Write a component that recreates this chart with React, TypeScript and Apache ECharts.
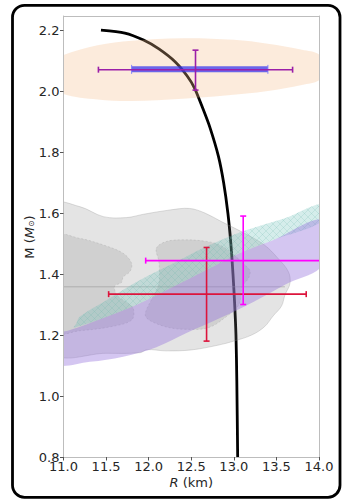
import React, { useEffect, useRef } from "react";
import * as echarts from "echarts";

const FONT = "DejaVu Sans";

// Mass–radius relation of the equation of state (R in km, M in solar masses)
const eosR = [11.44, 11.72, 11.94, 12.12, 12.31, 12.45, 12.54, 12.64, 12.72, 12.82, 12.88, 12.93, 12.965, 12.99, 13.01, 13.025, 13.035, 13.045];
const eosM = [2.2, 2.19, 2.167, 2.138, 2.096, 2.05, 2.009, 1.94, 1.88, 1.785, 1.7, 1.6, 1.5, 1.4, 1.3, 1.2, 1.05, 0.8];

// Credible region of the heavy pulsar (outline)
const heavyRegion = [
  [10.8, 2.09], [11.0, 2.118], [11.4, 2.15], [11.8, 2.165], [12.4, 2.173], [13.0, 2.168], [13.4, 2.155], [13.8, 2.135], [14.0, 2.12], [14.1, 2.08],
  [14.0, 2.035], [13.8, 2.02], [13.4, 2.0], [12.9, 1.985], [12.4, 1.975], [11.8, 1.967], [11.4, 1.972], [11.0, 1.99], [10.8, 2.03],
];

// Gravitational-wave posterior contours: outer (90%) and inner (50%) levels
const gwOuter = [
  [10.9, 1.627], [11.19, 1.621], [11.47, 1.588], [11.74, 1.585], [11.94, 1.596], [12.25, 1.61], [12.48, 1.615], [12.66, 1.6], [12.86, 1.571],
  [13.13, 1.533], [13.36, 1.495], [13.52, 1.451], [13.64, 1.408], [13.66, 1.37], [13.6, 1.331], [13.56, 1.295], [13.46, 1.262], [13.36, 1.227],
  [13.21, 1.2], [13.0, 1.18], [12.82, 1.167], [12.5, 1.151], [12.2, 1.148], [11.98, 1.152], [11.9, 1.142], [11.5, 1.14], [10.9, 1.145],
];
const gwInnerLeft = [
  [10.9, 1.524], [11.19, 1.517], [11.47, 1.495], [11.7, 1.468], [11.8, 1.435], [11.78, 1.408], [11.7, 1.39], [11.68, 1.372], [11.6, 1.36],
  [11.63, 1.33], [11.75, 1.305], [11.82, 1.287], [11.8, 1.249], [11.55, 1.227], [11.19, 1.214], [10.9, 1.21],
];
const gwInnerMid = [
  [12.09, 1.484], [12.2, 1.506], [12.4, 1.512], [12.68, 1.507], [12.85, 1.493], [13.0, 1.463], [13.12, 1.432], [13.19, 1.41], [13.17, 1.385],
  [13.1, 1.36], [13.06, 1.3], [12.92, 1.262], [12.7, 1.224], [12.4, 1.219], [12.2, 1.227], [12.0, 1.25], [11.96, 1.27], [12.04, 1.32],
  [12.12, 1.37], [12.12, 1.44],
];
const gwLevelLine = [[11.0, 1.358], [13.6, 1.358]];

// Constraint bands
const tealBand = [
  [11.12, 1.225], [11.15, 1.238], [11.19, 1.26], [11.51, 1.315], [11.9, 1.38], [12.29, 1.435], [12.68, 1.49], [13.15, 1.544], [13.6, 1.583], [14.05, 1.63],
  [14.05, 1.575], [13.46, 1.511], [13.07, 1.468], [12.68, 1.413], [12.29, 1.358], [11.9, 1.304], [11.51, 1.26], [11.2, 1.23],
];
const purpleBand = [
  [10.9, 1.205], [11.04, 1.213], [11.51, 1.26], [11.9, 1.304], [12.29, 1.358], [12.68, 1.413], [13.07, 1.468], [13.46, 1.511], [14.05, 1.577],
  [14.05, 1.432], [13.6, 1.365], [13.24, 1.31], [12.85, 1.257], [12.45, 1.207], [12.09, 1.16], [11.7, 1.129], [11.31, 1.112], [10.9, 1.105],
];

// Error bars: [R, M, Rlow, Rhigh, Mlow, Mhigh]
const heavyBar = [12.55, 2.07, 11.41, 13.69, 2.003, 2.134];
const heavyBand = [11.8, 13.4, 2.071]; // [Rlow, Rhigh, M]
const nicerRiley = [12.68, 1.334, 11.53, 13.85, 1.18, 1.487];
const nicerMiller = [13.11, 1.444, 11.965, 14.26, 1.3, 1.59];

const xTicks = [11.0, 11.5, 12.0, 12.5, 13.0, 13.5, 14.0];
const yTicks = [0.8, 1.0, 1.2, 1.4, 1.6, 1.8, 2.0, 2.2];

const hatchSvg =
  "<svg xmlns='http://www.w3.org/2000/svg' width='7' height='7'><path d='M0 0L7 7M7 0L0 7' stroke='rgb(110,185,175)' stroke-opacity='0.35' stroke-width='0.6' fill='none'/></svg>";
const hatchUrl = "data:image/svg+xml;charset=utf-8," + encodeURIComponent(hatchSvg);

function areaSeries(id: string, pts: number[][], style: any, z: number) {
  return {
    type: "custom",
    id,
    z,
    clip: true,
    silent: true,
    data: pts,
    encode: { x: 0, y: 1 },
    renderItem: (params: any, api: any) => {
      if (params.dataIndex !== 0) return null;
      return {
        type: "polygon",
        shape: { points: pts.map((p) => api.coord(p)), smooth: 0.35 },
        style,
      };
    },
  };
}

function errorBarSeries(id: string, bar: number[], color: string, z: number) {
  return {
    type: "custom",
    id,
    z,
    clip: true,
    silent: true,
    data: [bar],
    renderItem: (_params: any, api: any) => {
      const x = api.value(0), y = api.value(1);
      const l = api.coord([api.value(2), y]);
      const r = api.coord([api.value(3), y]);
      const b = api.coord([x, api.value(4)]);
      const t = api.coord([x, api.value(5)]);
      const cap = 3;
      const st = { stroke: color, lineWidth: 1.6 };
      const seg = (x1: number, y1: number, x2: number, y2: number) => ({ type: "line", shape: { x1, y1, x2, y2 }, style: st });
      return {
        type: "group",
        children: [
          seg(l[0], l[1], r[0], r[1]),
          seg(t[0], t[1], b[0], b[1]),
          seg(l[0], l[1] - cap, l[0], l[1] + cap),
          seg(r[0], r[1] - cap, r[0], r[1] + cap),
          seg(t[0] - cap, t[1], t[0] + cap, t[1]),
          seg(b[0] - cap, b[1], b[0] + cap, b[1]),
        ],
      };
    },
  };
}

export default function App() {
  const ref = useRef<HTMLDivElement>(null);

  useEffect(() => {
    if (!ref.current) return;
    const chart = echarts.init(ref.current, null, { renderer: "svg" });

    const labelStyle = { color: "#262626", fontSize: 13, fontFamily: FONT };
    const spine = { show: true, onZero: false, lineStyle: { color: "#bdbdbd", width: 1 } };

    chart.setOption({
      animation: false,
      backgroundColor: "#ffffff",
      grid: { left: 63.5, right: 23, top: 16, bottom: 44, outerBoundsMode: "none" },
      xAxis: [
        {
          type: "value", min: 11, max: 14, interval: 0.5, position: "bottom", z: 10,
          axisLine: spine,
          axisTick: { show: true, length: 3.5, lineStyle: { color: "#555" } },
          axisLabel: { ...labelStyle, margin: 3, formatter: (v: number) => v.toFixed(1), customValues: xTicks },
          splitLine: { show: false },
        },
        {
          type: "value", min: 11, max: 14, position: "top", z: 10,
          axisLine: spine, axisTick: { show: false }, axisLabel: { show: false }, splitLine: { show: false },
        },
      ],
      yAxis: [
        {
          type: "value", min: 0.8, max: 2.246, position: "left", z: 10,
          axisLine: spine,
          axisTick: { show: true, length: 3.5, lineStyle: { color: "#555" }, customValues: yTicks },
          axisLabel: { ...labelStyle, margin: 4, formatter: (v: number) => v.toFixed(1), customValues: yTicks },
          splitLine: { show: false },
        },
        {
          type: "value", min: 0.8, max: 2.246, position: "right", z: 10,
          axisLine: spine, axisTick: { show: false }, axisLabel: { show: false }, splitLine: { show: false },
        },
      ],
      graphic: [
        {
          type: "text", x: 29, y: 237, rotation: Math.PI / 2, z: 20,
          style: {
            text: "M ({i|M}{s|⊙})", fontSize: 13, fontFamily: FONT, fill: "#262626", align: "center", verticalAlign: "middle",
            rich: {
              i: { fontStyle: "italic", fontSize: 13, fontFamily: FONT, fill: "#262626" },
              s: { fontSize: 8, fontFamily: FONT, fill: "#262626", verticalAlign: "bottom", padding: [5, 0, 0, 0] },
            },
          },
        },
        {
          type: "text", x: 191.3, y: 482, z: 20,
          style: {
            text: "{i|R} (km)", fontSize: 13, fontFamily: FONT, fill: "#262626", align: "center", verticalAlign: "middle",
            rich: { i: { fontStyle: "italic", fontSize: 13, fontFamily: FONT, fill: "#262626" } },
          },
        },
        {
          type: "rect", z: 30,
          shape: { x: 12.5, y: 5.3, width: 327.5, height: 492, r: 12 },
          style: { fill: "none", stroke: "#000", lineWidth: 2.8 },
        },
      ],
      series: [
        {
          type: "line", id: "eos", z: 1, silent: true, showSymbol: false, smooth: 0.25,
          data: eosR.map((r, i) => [r, eosM[i]]),
          lineStyle: { color: "#000", width: 2.8 },
        },
        areaSeries("gwOuter", gwOuter, { fill: "rgba(128,128,128,0.21)", stroke: "rgba(140,140,140,0.35)", lineWidth: 0.8 }, 2),
        areaSeries("gwInnerLeft", gwInnerLeft, { fill: "rgba(128,128,128,0.2)", stroke: "rgba(140,140,140,0.3)", lineWidth: 0.8, lineDash: [2, 2] }, 3),
        areaSeries("gwInnerMid", gwInnerMid, { fill: "rgba(128,128,128,0.2)", stroke: "rgba(140,140,140,0.3)", lineWidth: 0.8, lineDash: [2, 2] }, 3),
        {
          type: "line", id: "gwLevel", z: 3, silent: true, showSymbol: false,
          data: gwLevelLine, lineStyle: { color: "rgba(140,140,140,0.5)", width: 1 },
        },
        areaSeries("teal", tealBand, { fill: "rgba(100,190,180,0.27)" }, 4),
        areaSeries("tealHatch", tealBand, { fill: { image: hatchUrl, repeat: "repeat", imageWidth: 7, imageHeight: 7 } }, 4),
        areaSeries("purple", purpleBand, { fill: "rgba(147,112,219,0.4)" }, 5),
        areaSeries("heavy", heavyRegion, { fill: "rgba(245,190,140,0.3)" }, 6),
        {
          type: "custom", id: "heavyBand", z: 7, clip: true, silent: true,
          data: [heavyBand],
          renderItem: (_p: any, api: any) => {
            const a = api.coord([api.value(0), api.value(2)]);
            const b = api.coord([api.value(1), api.value(2)]);
            const cs = { stroke: "rgba(120,120,255,0.9)", lineWidth: 1 };
            return {
              type: "group",
              children: [
                { type: "line", shape: { x1: a[0], y1: a[1], x2: b[0], y2: b[1] }, style: { stroke: "rgba(50,50,240,0.72)", lineWidth: 6 } },
                { type: "line", shape: { x1: a[0], y1: a[1] - 4.5, x2: a[0], y2: a[1] + 4.5 }, style: cs },
                { type: "line", shape: { x1: b[0], y1: b[1] - 4.5, x2: b[0], y2: b[1] + 4.5 }, style: cs },
              ],
            };
          },
        },
        errorBarSeries("heavyBar", heavyBar, "#9b1fa8", 8),
        errorBarSeries("nicerRiley", nicerRiley, "#dc143c", 8),
        errorBarSeries("nicerMiller", nicerMiller, "#ff00ff", 8),
      ],
    });

    return () => chart.dispose();
  }, []);

  return <div ref={ref} style={{ position: "fixed", left: 0, top: 0, width: 342, height: 501, background: "#fff" }} />;
}
